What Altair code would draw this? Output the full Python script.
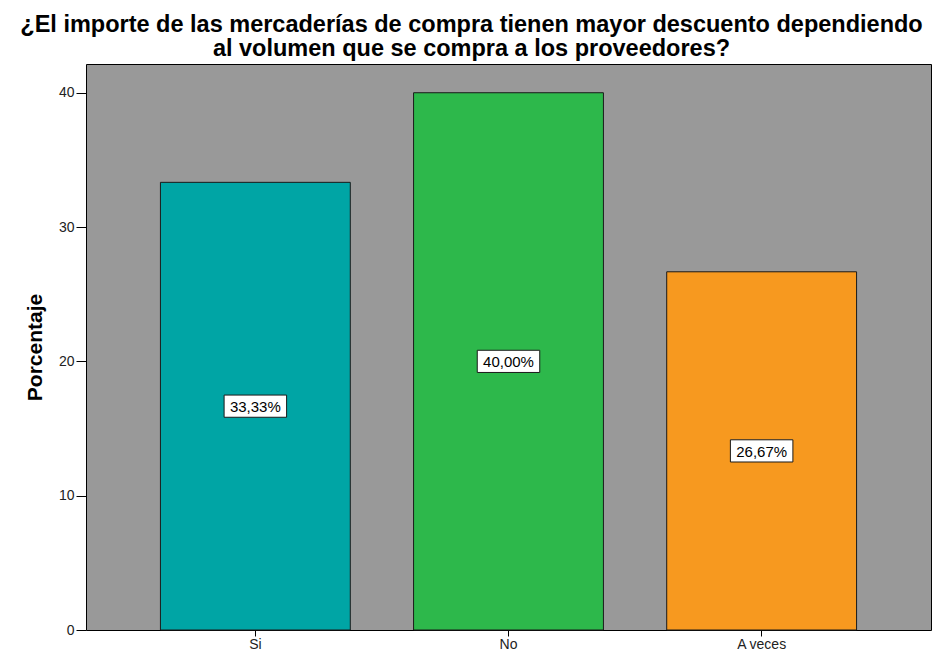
import altair as alt
import pandas as pd

categories = ["Si", "No", "A veces"]
percent = [33.33, 40.00, 26.67]
labels = ["33,33%", "40,00%", "26,67%"]
colors = ["#00A5A5", "#2DB84B", "#F7991F"]
y_ticks = [0, 10, 20, 30, 40]
title_lines = [
    "¿El importe de las mercaderías de compra tienen mayor descuento dependiendo",
    "al volumen que se compra a los proveedores?",
]

df = pd.DataFrame({"cat": categories, "pct": percent, "label": labels})

FONT = "Liberation Sans"

x_enc = alt.X(
    "cat:N",
    sort=categories,
    scale=alt.Scale(paddingInner=0.25, paddingOuter=0.294),
    axis=alt.Axis(
        title=None, labelAngle=0, labelFontSize=14, labelColor="#222222",
        labelFont=FONT, tickSize=6, tickColor="black", tickWidth=1,
        domain=False, labelPadding=1,
    ),
)
y_enc = alt.Y(
    "pct:Q",
    scale=alt.Scale(domain=[0, 42.14], nice=False),
    axis=alt.Axis(
        title="Porcentaje", values=y_ticks, grid=False, domain=False,
        labelFontSize=14, labelColor="#222222", labelFont=FONT,
        tickSize=10, tickColor="black", tickWidth=1, labelPadding=2,
        titleFont=FONT, titleFontSize=21, titleFontWeight="bold",
        titleColor="black", titlePadding=13,
    ),
)

base = alt.Chart(df)

bars = base.mark_bar(stroke="#1a1a1a", strokeWidth=1).encode(
    x=x_enc,
    y=y_enc,
    color=alt.Color("cat:N", scale=alt.Scale(domain=categories, range=colors), legend=None),
)

boxes = base.transform_calculate(mid="datum.pct / 2").mark_point(
    shape="M-1,-0.355L1,-0.355L1,0.355L-1,0.355Z",
    size=3906, filled=True, fill="white", fillOpacity=1,
    stroke="#1a1a1a", strokeWidth=1, opacity=1,
).encode(
    x=alt.X("cat:N", sort=categories),
    y=alt.Y("mid:Q"),
)

texts = base.transform_calculate(mid="datum.pct / 2").mark_text(
    font=FONT, fontSize=15, color="black", baseline="middle", align="center", dy=1,
).encode(
    x=alt.X("cat:N", sort=categories),
    y=alt.Y("mid:Q"),
    text="label:N",
)

chart = alt.layer(bars, boxes, texts).properties(
    width=845,
    height=566,
    autosize=alt.AutoSizeParams(type="none"),
    padding={"left": 78, "top": 56, "right": 1, "bottom": 26},
    title=alt.TitleParams(
        text=title_lines, font=FONT, fontSize=23.5, fontWeight="bold",
        color="black", anchor="middle", dx=-37, offset=4, lineHeight=24,
    ),
).configure_view(fill="#999999", stroke="black", strokeWidth=1)

chart.save("out.html", embed_options={"renderer": "svg", "actions": False})
